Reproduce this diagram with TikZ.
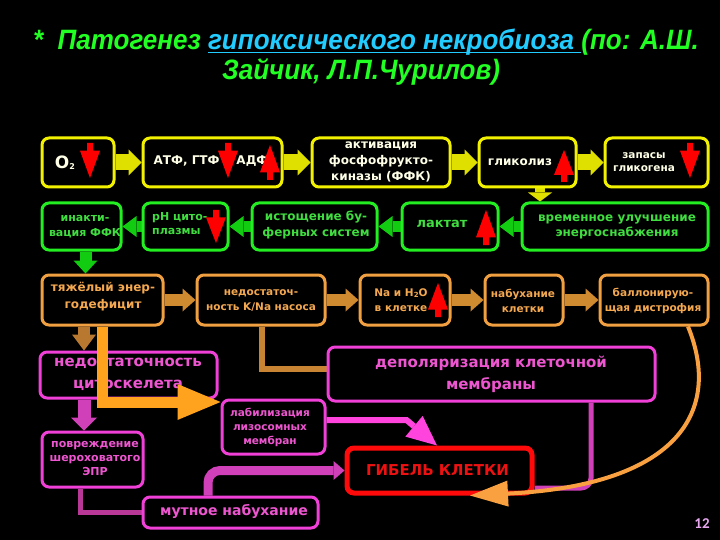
\documentclass[tikz,border=0pt]{standalone}
\usepackage{fontspec}
\setmainfont{DejaVu Sans}
\newfontfamily\titlefont{Liberation Sans}[FakeStretch=0.93]
\newfontfamily\numfont{Carlito}
\newsavebox\ulbox
\newcommand\myul[1]{\sbox\ulbox{#1}\rlap{\rule[-4pt]{\wd\ulbox}{1.6pt}}\usebox\ulbox}
\usetikzlibrary{arrows.meta,calc}
\definecolor{yb}{HTML}{F2F200}
\definecolor{yt}{HTML}{FFFFE8}
\definecolor{ya}{HTML}{E0E000}
\definecolor{gb}{HTML}{22EE22}
\definecolor{gt}{HTML}{3FDD3F}
\definecolor{ga}{HTML}{11CC11}
\definecolor{ob}{HTML}{F0A040}
\definecolor{ot}{HTML}{F4A850}
\definecolor{oa}{HTML}{D08A30}
\definecolor{brn}{HTML}{B87830}
\definecolor{brl}{HTML}{C88432}
\definecolor{org}{HTML}{FFA21E}
\definecolor{orc}{HTML}{F9A040}
\definecolor{pb}{HTML}{F040D8}
\definecolor{ptx}{HTML}{EE55D0}
\definecolor{pa}{HTML}{D040B8}
\definecolor{pbr}{HTML}{FF44DD}
\definecolor{pd}{HTML}{B83898}
\definecolor{rb}{HTML}{FF0A0A}
\definecolor{rt}{HTML}{EE1111}
\definecolor{ra}{HTML}{FF0000}
\definecolor{tg}{HTML}{22FF22}
\definecolor{tc}{HTML}{22CCFF}
\definecolor{numc}{HTML}{E8A8F0}
\pgfdeclarelayer{bg}
\pgfsetlayers{bg,main}
\newcommand\fsz[2]{\fontsize{#1}{#2}\selectfont}
\newcommand\redDown[3]{%
  \pgfmathsetmacro\ymidv{#2+0.22*(#3-#2)}%
  \fill[ra] (#1-3,#2) -- (#1+3,#2) -- (#1+3,\ymidv) -- (#1+10,\ymidv) -- (#1,#3) -- (#1-10,\ymidv) -- (#1-3,\ymidv) -- cycle;}
\newcommand\redUp[3]{%
  \pgfmathsetmacro\ymidv{#3-0.22*(#3-#2)}%
  \fill[ra] (#1,#2) -- (#1+10,\ymidv) -- (#1+3,\ymidv) -- (#1+3,#3) -- (#1-3,#3) -- (#1-3,\ymidv) -- (#1-10,\ymidv) -- cycle;}
\tikzset{
  box/.style={draw, rounded corners=7pt, line width=3pt, fill=black, inner sep=0pt},
  ybox/.style={box, draw=yb},
  gbox/.style={box, draw=gb},
  obox/.style={box, draw=ob},
  pbox/.style={box, draw=pb},
  rbox/.style={box, draw=rb, line width=5pt},
  tx/.style={inner sep=0pt, align=center, font=\bfseries},
  fs/.style 2 args={font=\bfseries\fsz{#1}{#2}},
  ytx/.style={tx, text=yt},
  gtx/.style={tx, text=gt},
  otx/.style={tx, text=ot},
  ptx/.style={tx, text=ptx},
  rtx/.style={tx, text=rt},
  title/.style={inner sep=0pt, text=tg, font=\titlefont\bfseries\itshape\fsz{28}{30}},
  yarr/.style={draw=ya, line width=16pt, -{Triangle[width=26pt,length=13pt,line width=0pt]}},
  yarrv/.style={draw=ya, line width=10pt, -{Triangle[width=24pt,length=9pt,line width=0pt]}},
  garr/.style={draw=ga, line width=10pt, -{Triangle[width=21pt,length=14pt,line width=0pt]}},
  garrv/.style={draw=ga, line width=12pt, -{Triangle[width=24pt,length=13pt,line width=0pt]}},
  oarr/.style={draw=oa, line width=12pt, -{Triangle[width=23pt,length=13pt,line width=0pt]}},
  brarr/.style={draw=brn, line width=12pt, -{Triangle[width=24pt,length=16pt,line width=0pt]}},
  bigarr/.style={draw=org, line width=11pt, -{Triangle[width=36pt,length=43pt,line width=0pt]}},
  brline/.style={draw=brl, line width=6pt},
  parr/.style={draw=pa, line width=13pt, -{Triangle[width=26pt,length=13pt,line width=0pt]}},
  pline/.style={draw=pd, line width=5pt},
  parr2/.style={draw=pa, line width=9pt, rounded corners=12pt, -{Triangle[width=19pt,length=11pt,line width=0pt]}},
  parr3/.style={draw=pbr, line width=6pt, -{Triangle[width=27pt,length=30pt,line width=0pt]}},
  pline2/.style={draw=pa, line width=5pt, rounded corners=10pt},
  oarrc/.style={draw=orc, line width=4pt, -{Triangle[width=26pt,length=38pt,line width=0pt]}}
}
\begin{document}
\begin{tikzpicture}[x=1pt,y=-1pt]
\useasboundingbox (0,0) rectangle (720,540);
\begin{pgfonlayer}{bg}
\fill[black] (0,0) rectangle (720,540);
\end{pgfonlayer}

% title
\node[title] (t1) at (366,42) {*\ \ Патогенез {\color{tc}\myul{гипоксического некробиоза\ }}(по: А.Ш.};
\node[title] (t2) at (361,72) {Зайчик, Л.П.Чурилов)};

% row 1
\node[ybox, minimum width=72pt, minimum height=49pt] (o2) at (78,162.5) {};
\node[ybox, minimum width=139pt, minimum height=49pt] (atf) at (212.5,162.5) {};
\node[ybox, minimum width=138pt, minimum height=49pt] (akt) at (381,162.5) {};
\node[ybox, minimum width=97pt, minimum height=49pt] (glik) at (527.5,162.5) {};
\node[ybox, minimum width=103pt, minimum height=49pt] (zap) at (656.5,162.5) {};
% row 2
\node[gbox, minimum width=79pt, minimum height=47pt] (inakt) at (81.5,226.5) {};
\node[gbox, minimum width=85pt, minimum height=47pt] (ph) at (185.5,226.5) {};
\node[gbox, minimum width=125pt, minimum height=47pt] (ist) at (314.5,226.5) {};
\node[gbox, minimum width=96pt, minimum height=47pt] (lakt) at (450,226.5) {};
\node[gbox, minimum width=186pt, minimum height=47pt] (vrem) at (615,226.5) {};
% row 3
\node[obox, minimum width=121pt, minimum height=50pt] (tyazh) at (102.5,300) {};
\node[obox, minimum width=128pt, minimum height=50pt] (nedost) at (261,300) {};
\node[obox, minimum width=90pt, minimum height=50pt] (na) at (405,300) {};
\node[obox, minimum width=78pt, minimum height=50pt] (nabuh) at (524,300) {};
\node[obox, minimum width=108pt, minimum height=50pt] (ballon) at (654,300) {};
% lower
\node[pbox, minimum width=177pt, minimum height=46pt] (cyto) at (128.5,375) {};
\node[pbox, minimum width=327pt, minimum height=54pt] (depol) at (491.5,374) {};
\node[pbox, minimum width=103pt, minimum height=54pt] (lyso) at (273.5,427) {};
\node[pbox, minimum width=101pt, minimum height=55pt] (povr) at (92.5,459.5) {};
\node[pbox, minimum width=175pt, minimum height=31pt] (mutn) at (230.5,512.5) {};
\node[rbox, minimum width=185pt, minimum height=45pt] (death) at (439.5,470.5) {};

% texts
\node[ytx, fs={17}{17}] (o2t) at (65,163) {O\raisebox{-1pt}{\fsz{8}{8}2}};
\node[ytx, fs={12}{14}] (atft) at (211,161) {АТФ, ГТФ\hspace{17pt}АДФ};
\node[ytx, fs={12}{16}] (aktt) at (381,161.5) {активация\\фосфофрукто-\\киназы (ФФК)};
\node[ytx, fs={12}{14}] (glikt) at (520,162) {гликолиз};
\node[ytx, fs={10.5}{13}] (zapt) at (644,162.5) {запасы\\гликогена};

\node[gtx, fs={11}{15}] (inaktt) at (85,227) {инакти-\\вация ФФК};
\node[gtx, fs={11}{14}, anchor=west, align=left] (pht) at (152,224) {pH цито-\\плазмы};
\node[gtx, fs={12}{16}] (istt) at (316,225) {истощение бу-\\ферных систем};
\node[gtx, fs={13}{14}] (laktt) at (442,224) {лактат};
\node[gtx, fs={12}{15}] (vremt) at (617,226.5) {временное улучшение\\энергоснабжения};

\node[otx, fs={12}{17}] (tyazht) at (103,296.5) {тяжёлый энер-\\годефицит};
\node[otx, fs={10.5}{15}] (nedostt) at (261,300.5) {недостаточ-\\ность K/Na насоса};
\node[otx, fs={10.5}{15}] (nat) at (401,300.5) {Na и H\raisebox{-1pt}{\fsz{7}{7}2}O\\в клетке};
\node[otx, fs={10.5}{15}] (nabuht) at (523,300.5) {набухание\\клетки};
\node[otx, fs={10.5}{15}] (ballont) at (653,300.5) {баллонирую-\\щая дистрофия};

\node[ptx, fs={15}{22}] (cytot) at (128,374) {недостаточность\\цитоскелета};
\node[ptx, fs={15}{22}] (depolt) at (491,374) {деполяризация клеточной\\мембраны};
\node[ptx, fs={10.5}{14}] (lysot) at (270,427) {лабилизация\\лизосомных\\мембран};
\node[ptx, fs={11}{14}] (povrt) at (95,458) {повреждение\\шероховатого\\ЭПР};
\node[ptx, fs={14}{15}] (mutnt) at (234,511) {мутное набухание};
\node[rtx, fs={15}{16}] (deatht) at (437.5,470) {ГИБЕЛЬ КЛЕТКИ};

\node[inner sep=0pt, text=numc, font=\numfont\bfseries\fsz{15}{15}] (num) at (702,524) {12};

% red indicator arrows
\redDown{90}{143}{178}
\redDown{228}{143}{178}
\redUp{270}{145}{180}
\redUp{564}{150}{182}
\redDown{690}{143}{178}
\redDown{216}{210}{243}
\redUp{486}{210}{245}
\redUp{438}{283}{317}

% connectors behind boxes
\begin{pgfonlayer}{bg}
\draw[yarr] (o2) -- (atf);
\draw[yarr] (atf) -- (akt);
\draw[yarr] (akt) -- (glik);
\draw[yarr] (glik) -- (zap);
\draw[yarrv] ([xshift=12.5pt]glik.south) -- ([xshift=12.5pt]glik.south |- vrem.north);
\draw[garr] (vrem) -- (lakt);
\draw[garr] (lakt) -- (ist);
\draw[garr] (ist) -- (ph);
\draw[garr] (ph) -- (inakt);
\draw[garrv] ([xshift=4pt]inakt.south) -- ([xshift=4pt]inakt.south |- tyazh.north);
\draw[oarr] (tyazh) -- (nedost);
\draw[oarr] (nedost) -- (na);
\draw[oarr] (na) -- (nabuh);
\draw[oarr] (nabuh) -- (ballon);
\draw[brarr] ([xshift=-18.5pt]tyazh.south) -- ([xshift=-18.5pt]tyazh.south |- cyto.north);
\draw[brline] ([xshift=1pt]nedost.south) |- ([yshift=5pt]depol.west);
\draw[parr] ([xshift=-44.5pt]cyto.south) -- ([xshift=-44.5pt]cyto.south |- povr.north);
\draw[pline] ([xshift=-12.5pt]povr.south) |- (mutn.west);
\draw[parr2] ([xshift=-22.5pt]mutn.north) |- (death.west);
\draw[parr3] ([yshift=7pt]lyso.east) -- ++(80,0) -- ([xshift=-2.5pt]death.north);
\draw[pline2] ([xshift=99.5pt]depol.south) |- ([yshift=-17.5pt]death.east);
\end{pgfonlayer}

% connectors on top
\draw[bigarr] ([xshift=-0.5pt]tyazh.south) |- ([yshift=25pt]lyso.west);
\draw[oarrc] ([xshift=34pt]ballon.south) .. controls (722,410) and (680,485) .. ([xshift=30.5pt]death.south);
\end{tikzpicture}
\end{document}
